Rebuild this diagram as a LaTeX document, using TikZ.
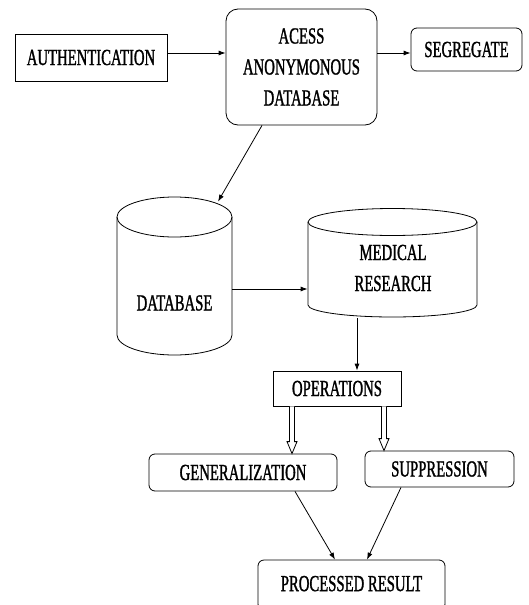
\documentclass[tikz,border=0pt]{standalone}
\usepackage{fontspec}
\setmainfont{Liberation Serif}[FakeStretch=0.64,FakeBold=1.2]
\usetikzlibrary{arrows.meta,calc}
\begin{document}
\begin{tikzpicture}[x=1pt,y=-1pt,
  line width=0.8pt,
  every node/.style={inner sep=0pt, font=\fontsize{23}{31}\selectfont, align=center},
  plainbox/.style={draw, rectangle},
  roundbox/.style={draw, rectangle, rounded corners=6pt},
  ghost/.style={rectangle},
  arr/.style={-{Latex[length=7pt,width=5pt]}},
  openarrow/.style={to path={($(\tikztostart)+(-2.5,0)$) -- ($(\tikztotarget)+(-2.5,-12)$) -- ($(\tikztotarget)+(-5,-12)$) -- (\tikztotarget) -- ($(\tikztotarget)+(5,-12)$) -- ($(\tikztotarget)+(2.5,-12)$) -- ($(\tikztostart)+(2.5,0)$)}}
]
\useasboundingbox (0,0) rectangle (528,605);

% boxes
\node[plainbox, minimum width=152pt, minimum height=47pt] (auth) at (91,57.5) {AUTHENTICATION};
\node[roundbox, rounded corners=12pt, minimum width=151pt, minimum height=116pt] (acess) at (301.5,67) {ACESS\\ANONYMONOUS\\DATABASE};
\node[roundbox, minimum width=111pt, minimum height=43pt] (seg) at (466.5,49.5) {SEGREGATE};

% database cylinder
\draw (174.5,217) ellipse [x radius=57.5, y radius=20];
\draw (117,217) -- (117,335) arc[start angle=180, end angle=0, x radius=57.5, y radius=20] -- (232,217);
\node[ghost, minimum width=115pt, minimum height=158pt] (db) at (174.5,276) {};
\node (dbt) at (174.5,303) {DATABASE};

% medical research cylinder
\draw (392.5,222) ellipse [x radius=84.5, y radius=13.5];
\draw (308,222) -- (308,305) arc[start angle=180, end angle=0, x radius=84.5, y radius=12] -- (477,222);
\node[ghost, minimum width=169pt, minimum height=108pt] (med) at (392.5,263) {};
\node (medt) at (393,268) {MEDICAL\\RESEARCH};

\node[plainbox, minimum width=128pt, minimum height=35pt] (ops) at (337,388.5) {OPERATIONS};
\node[roundbox, minimum width=188pt, minimum height=37pt] (gen) at (243,472.5) {GENERALIZATION};
\node[roundbox, minimum width=149pt, minimum height=36pt] (sup) at (439.5,469) {SUPPRESSION};
\node[roundbox, minimum width=187pt, minimum height=50pt] (res) at (351.5,585) {\raisebox{3pt}{PROCESSED RESULT}};

% connectors
\draw[arr] ([yshift=4.5pt]auth.east) -- ([yshift=4.5pt]auth.east -| acess.west);
\draw[arr] ([yshift=14pt]acess.east) -- ([yshift=14pt]acess.east -| seg.west);
\draw[arr] ([xshift=-39.5pt]acess.south) -- ([xshift=43.5pt,yshift=-5pt]db.north);
\draw[arr] ([yshift=-13pt]db.east) -- ([yshift=-13pt]db.east -| med.west);
\draw[arr] ([xshift=-35.5pt,yshift=-1pt]med.south) -- ([xshift=-35.5pt]med.south |- ops.north);

\coordinate (oa1) at ([xshift=-45pt]ops.south);
\coordinate (oa2) at ([xshift=47pt]ops.south);
\draw[fill=white] (oa1) to[openarrow] (oa1 |- gen.north);
\draw[fill=white] (oa2) to[openarrow] (oa2 |- sup.north);

\draw[arr] ([xshift=52pt]gen.south) -- ([xshift=-16.5pt]res.north);
\draw[arr] ([xshift=-38.5pt]sup.south) -- ([xshift=15.5pt]res.north);
\end{tikzpicture}
\end{document}
